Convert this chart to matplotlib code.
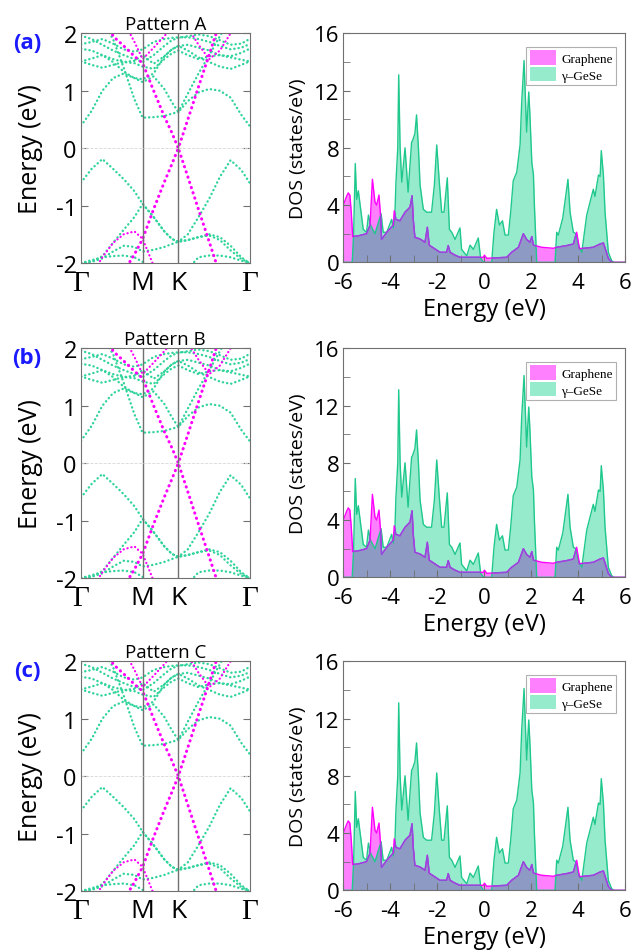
import numpy as np
import matplotlib
matplotlib.use("Agg")
import matplotlib.pyplot as plt
from matplotlib.patches import Patch
from matplotlib.ticker import MultipleLocator

plt.rcParams['font.family'] = ['Open Sans', 'DejaVu Sans']
plt.rcParams['axes.unicode_minus'] = False

# ---- band structure data (eV), sampled along G-M-K-G ----
kpath = [0, 0.1, 0.2, 0.3, 0.4, 0.5, 0.577, 0.68, 0.78, 0.85, 0.911,
         1.0, 1.1, 1.2, 1.3, 1.4, 1.5, 1.577]
ktick_pos = [0, 0.577, 0.911, 1.577]
ktick_lab = ['Γ', 'M', 'K', 'Γ']

gese_bands = [
    [-0.6, -0.36, -0.19, -0.36, -0.54, -0.75, -0.97, -1.2, -1.45, -1.58, -1.63, -1.5, -1.2, -0.88, -0.5, -0.21, -0.38, -0.6],
    [-2.0, -1.98, -1.88, -1.65, -1.42, -1.2, -0.97, -1.2, -1.45, -1.58, -1.63, -1.6, -1.55, -1.52, -1.6, -1.78, -1.93, -2.0],
    [-2.0, -1.98, -1.92, -1.8, -1.7, -1.72, -1.8, -1.77, -1.72, -1.67, -1.63, -1.6, -1.55, -1.5, -1.55, -1.7, -1.9, -2.0],
    [-2.0, -1.95, -1.9, -1.88, -1.87, -1.9, -1.98, -2.1, -2.2, -2.2, -2.2, -2.1, -1.9, -1.87, -1.87, -1.9, -1.96, -2.0],
    [0.39, 0.65, 1.0, 1.22, 1.3, 1.22, 1.15, 1.25, 1.03, 0.8, 0.63, 0.82, 0.97, 1.03, 1.0, 0.88, 0.58, 0.39],
    [3.0, 2.6, 2.2, 1.9, 1.4, 0.85, 0.53, 0.54, 0.56, 0.6, 0.63, 0.95, 1.3, 1.62, 1.95, 2.3, 2.6, 3.0],
    [1.51, 1.56, 1.62, 1.5, 1.33, 1.22, 1.2, 1.3, 1.6, 1.72, 1.78, 1.7, 1.58, 1.5, 1.42, 1.38, 1.45, 1.51],
    [1.51, 1.45, 1.4, 1.45, 1.5, 1.48, 1.42, 1.38, 1.55, 1.65, 1.7, 1.62, 1.55, 1.6, 1.62, 1.58, 1.54, 1.51],
    [1.73, 1.7, 1.62, 1.55, 1.5, 1.52, 1.62, 1.47, 1.6, 1.72, 1.78, 1.8, 1.75, 1.7, 1.62, 1.6, 1.66, 1.73],
    [1.81, 1.85, 1.9, 1.82, 1.72, 1.68, 1.72, 1.85, 1.9, 1.92, 1.93, 1.93, 1.9, 1.85, 1.78, 1.72, 1.75, 1.81],
    [1.96, 1.9, 1.8, 1.7, 1.62, 1.55, 1.5, 1.62, 1.78, 1.88, 1.92, 1.95, 1.98, 1.95, 1.88, 1.8, 1.82, 1.9],
]

graphene_bands = [
    [3.5, 3.0, 2.4, 1.95, 1.78, 1.6, 1.48, 1.0, 0.55, 0.27, 0.0, 0.5, 1.07, 1.63, 2.2, 2.7, 3.2, 3.5],
    [-4.0, -3.4, -2.9, -2.5, -2.15, -1.85, -1.58, -1.06, -0.59, -0.28, 0.0, -0.5, -1.07, -1.63, -2.2, -2.7, -3.2, -4.0],
    [-2.5, -2.2, -1.9, -1.65, -1.5, -1.45, -1.58, -2.05, -2.4, -2.6, -2.7, -2.6, -2.4, -2.2, -2.1, -2.2, -2.4, -2.5],
    [4.0, 3.5, 3.0, 2.6, 2.2, 1.85, 1.55, 1.75, 1.95, 2.1, 2.25, 2.1, 1.8, 1.55, 1.7, 2.0, 2.4, 2.8],
]

# ---- DOS data (states/eV) ----
gese_E = [-6.0, -5.62, -5.56, -5.49, -5.43, -5.36, -5.15, -5.01, -4.93, -4.84, -4.65, -4.39, -4.30, -4.15,
          -3.94, -3.87, -3.80, -3.76, -3.68, -3.64, -3.58, -3.51, -3.37, -3.24, -3.09, -3.05, -2.95, -2.88,
          -2.80, -2.73, -2.59, -2.45, -2.24, -2.12, -2.02, -1.91, -1.81, -1.71, -1.57, -1.48, -1.38, -1.24,
          -1.03, -0.96, -0.74, -0.60, -0.46, -0.25, -0.15, -0.03, 0.32, 0.42, 0.53, 0.65, 0.78, 0.89, 1.03,
          1.13, 1.24, 1.39, 1.53, 1.60, 1.70, 1.81, 1.90, 1.95, 2.03, 2.10, 2.14, 2.24, 3.02, 3.09, 3.16,
          3.35, 3.57, 3.66, 3.80, 3.91, 4.01, 4.16, 4.37, 4.65, 4.72, 4.87, 4.94, 4.99, 5.08, 5.15, 5.29,
          5.43, 5.53, 6.0]
gese_dos = [0, 0, 2.0, 6.9, 4.4, 5.0, 2.3, 2.1, 3.3, 2.6, 2.0, 3.4, 2.1, 2.1,
            3.0, 2.4, 3.4, 5.5, 8.0, 13.1, 8.0, 5.6, 8.0, 4.9, 8.4, 8.5, 9.0, 10.3,
            8.0, 5.4, 3.7, 3.5, 3.5, 5.4, 8.2, 5.6, 3.5, 3.5, 5.9, 2.3, 2.1, 1.6,
            2.4, 0.9, 0.45, 1.2, 0.9, 1.7, 0.3, 0, 0, 2.1, 3.7, 2.6, 2.9, 1.9, 1.9,
            3.5, 5.7, 6.3, 8.2, 11.2, 14.1, 9.1, 11.9, 10.3, 7.0, 6.1, 4.0, 0, 0, 2.1, 1.9,
            3.1, 5.8, 3.5, 2.1, 2.0, 1.2, 0.7, 3.3, 5.1, 4.6, 6.1, 6.0, 7.8, 6.1, 3.5, 0.7,
            0.12, 0, 0]

gr_E = [-6.0, -5.86, -5.79, -5.72, -5.66, -5.60, -5.36, -5.01, -4.86, -4.76, -4.65, -4.58, -4.48, -4.41,
        -4.37, -4.15, -3.87, -3.83, -3.76, -3.59, -3.37, -3.16, -3.07, -3.02, -2.95, -2.73, -2.52, -2.42,
        -2.34, -2.09, -1.88, -1.60, -1.53, -1.45, -1.24, -1.03, -0.03, 0.01, 0.11, 0.96, 1.17, 1.46, 1.67,
        1.81, 1.95, 2.03, 2.10, 2.45, 2.95, 3.09, 3.52, 3.80, 3.94, 4.06, 4.65, 4.94, 5.08, 5.15, 5.29,
        5.43, 6.0]
gr_dos = [4.0, 4.6, 4.85, 4.7, 3.5, 1.8, 1.85, 2.0, 2.6, 5.8, 4.2, 4.0, 4.7, 3.2,
          1.6, 2.1, 2.6, 3.6, 3.0, 2.9, 3.5, 3.85, 4.65, 3.0, 1.75, 1.63, 1.4, 2.45,
          1.2, 0.93, 0.7, 0.7, 1.17, 0.7, 0.5, 0.35, 0.35, 0.5, 0.28, 0.35, 0.7, 1.05, 2.0,
          1.6, 1.4, 1.8, 1.2, 1.05, 0.98, 1.05, 1.17, 1.28, 2.1, 0.95, 1.05, 1.28, 1.35, 1.0, 0.28,
          0.0, 0.0]

patterns = ['Pattern A', 'Pattern B', 'Pattern C']
panel_tags = ['(a)', '(b)', '(c)']

GREEN = '#2fd49a'
MAGENTA = '#ff00ff'
GESE_FILL = '#96ebcd'
GESE_LINE = '#1fc88c'
GR_FILL = '#ff80ff'
OVERLAP = '#8c9ac4'
OVERLAP_LINE = '#8a50d8'
FRAME = '#707070'

W, H = 633, 953
fig = plt.figure(figsize=(W / 100, H / 100), dpi=100)


def px_axes(left, top, right, bottom):
    return fig.add_axes([left / W, 1 - bottom / H, (right - left) / W, (bottom - top) / H])


tops = [34.3, 349.3, 662.3]

for i, top in enumerate(tops):
    # band structure
    ax = px_axes(81, top, 249.5, top + 229.7)
    for b in gese_bands:
        ax.plot(kpath, b, color=GREEN, lw=1.7, ls=(0, (0.1, 1.7)), dash_capstyle='round')
    for j, b in enumerate(graphene_bands):
        lw = 2.2 if j < 2 else 1.6
        ax.plot(kpath, b, color=MAGENTA, lw=lw, ls=(0, (0.1, 1.7)), dash_capstyle='round')
    for kp in ktick_pos[1:3]:
        ax.axvline(kp, color=FRAME, lw=1.0)
    ax.axhline(0, color='#d8d8d8', lw=0.6, ls='--')
    ax.set_xlim(ktick_pos[0], ktick_pos[-1])
    ax.set_ylim(-2, 2)
    ax.set_yticks([-2, -1, 0, 1, 2])
    ax.tick_params(axis='y', direction='in', right=True, length=5, labelsize=17, pad=3, color=FRAME)
    ax.set_xticks(ktick_pos)
    ax.set_xticklabels(ktick_lab)
    ax.tick_params(axis='x', length=0, labelsize=19, pad=5)
    for lab in ax.get_xticklabels():
        if lab.get_text() == 'Γ':
            lab.set_fontfamily('Liberation Serif')
            lab.set_fontsize(21)
    for s in ax.spines.values():
        s.set_color(FRAME)
    ax.set_ylabel('Energy (eV)', fontsize=18, labelpad=9)
    ax.set_title(patterns[i], fontsize=13.5, pad=2)
    fig.text(27 / W, 1 - (top + 9) / H, panel_tags[i], color='#1a1aff', fontweight='bold',
             fontsize=16, ha='center', va='center')

    # density of states
    axd = px_axes(343.3, top, 625, top + 229)
    gese_fill = axd.fill_between(gese_E, gese_dos, color=GESE_FILL, lw=0)
    axd.fill_between(gr_E, gr_dos, color=GR_FILL, lw=0)
    clip_path = gese_fill.get_paths()[0]
    ov = axd.fill_between(gr_E, gr_dos, color=OVERLAP, lw=0)
    ov.set_clip_path(clip_path, axd.transData)
    axd.plot(gese_E, gese_dos, color=GESE_LINE, lw=1.0)
    axd.plot(gr_E, gr_dos, color=MAGENTA, lw=1.0)
    ovl, = axd.plot(gr_E, gr_dos, color=OVERLAP_LINE, lw=1.0)
    ovl.set_clip_path(clip_path, axd.transData)
    axd.set_xlim(-6, 6)
    axd.set_ylim(0, 16)
    axd.xaxis.set_major_locator(MultipleLocator(2))
    axd.xaxis.set_minor_locator(MultipleLocator(1))
    axd.yaxis.set_major_locator(MultipleLocator(4))
    axd.yaxis.set_minor_locator(MultipleLocator(2))
    axd.tick_params(which='both', direction='in', length=5, color=FRAME)
    axd.tick_params(axis='x', labelsize=16, pad=7)
    axd.tick_params(axis='y', labelsize=16, pad=3)
    for s in axd.spines.values():
        s.set_color(FRAME)
    axd.set_xlabel('Energy (eV)', fontsize=17, labelpad=3)
    axd.set_ylabel('DOS (states/eV)', fontsize=14, labelpad=5)
    handles = [Patch(facecolor=GR_FILL, edgecolor='none'), Patch(facecolor=GESE_FILL, edgecolor='none')]
    leg = axd.legend(handles, ['Graphene', 'γ–GeSe'], loc='upper right', bbox_to_anchor=(0.968, 0.94),
                     borderaxespad=0, fancybox=False, framealpha=1, edgecolor='#b0b0b0',
                     prop={'family': 'Liberation Serif', 'size': 9.5}, handlelength=2.0,
                     handleheight=1.3, labelspacing=0.15, borderpad=0.25, handletextpad=0.4)
    leg.get_frame().set_linewidth(0.8)

fig.savefig('out.png', dpi=100)
